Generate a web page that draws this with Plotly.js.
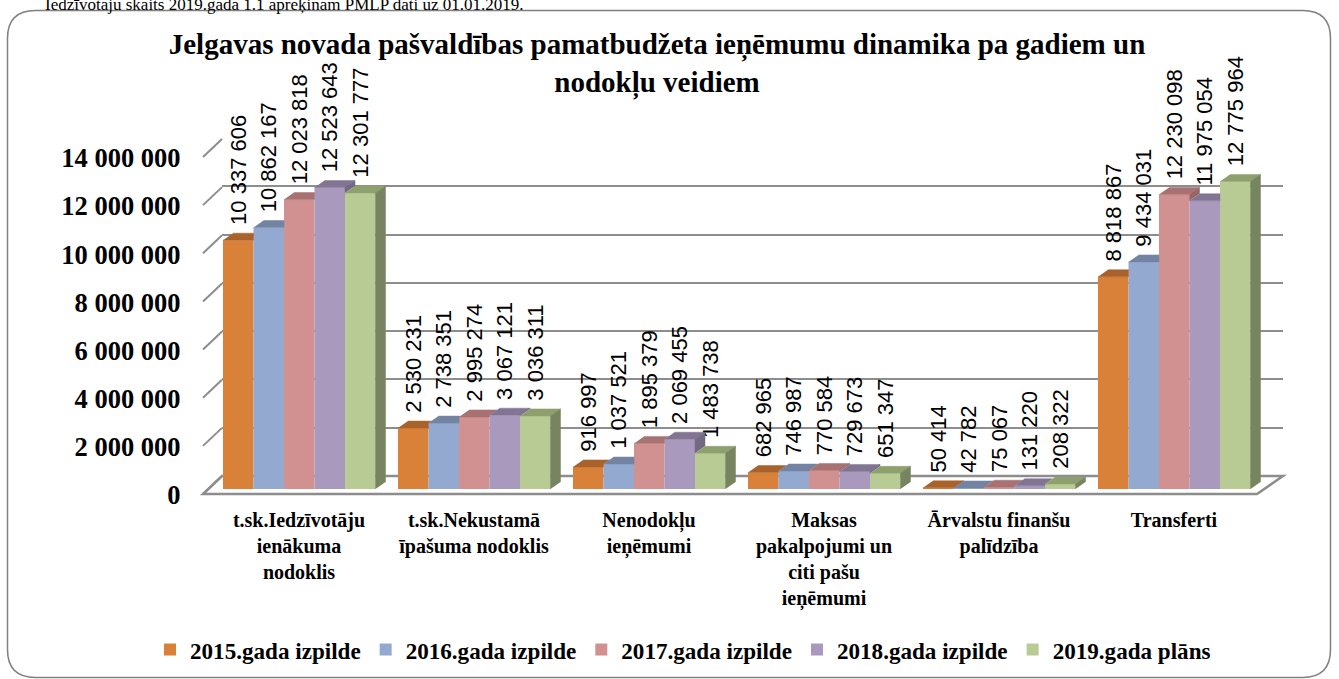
<!DOCTYPE html>
<html>
<head>
<meta charset="utf-8">
<script src="https://cdn.plot.ly/plotly-3.0.1.min.js"></script>
<style>html,body{margin:0;padding:0;background:#fff;}#chart{width:1339px;height:679px;}</style>
</head>
<body>
<div id="chart"></div>
<script>
// ---- data ----
const categories = [
  't.sk.Iedzīvotāju<br>ienākuma<br>nodoklis',
  't.sk.Nekustamā<br>īpašuma nodoklis',
  'Nenodokļu<br>ieņēmumi',
  'Maksas<br>pakalpojumi un<br>citi pašu<br>ieņēmumi',
  'Ārvalstu finanšu<br>palīdzība',
  'Transferti'
];
const seriesNames = ['2015.gada izpilde','2016.gada izpilde','2017.gada izpilde','2018.gada izpilde','2019.gada plāns'];
const v2015 = [10337606, 2530231, 916997, 682965, 50414, 8818867];
const v2016 = [10862167, 2738351, 1037521, 746987, 42782, 9434031];
const v2017 = [12023818, 2995274, 1895379, 770584, 75067, 12230098];
const v2018 = [12523643, 3067121, 2069455, 729673, 131220, 11975054];
const v2019 = [12301777, 3036311, 1483738, 651347, 208322, 12775964];
const yTicks = [0, 2000000, 4000000, 6000000, 8000000, 10000000, 12000000, 14000000];
const titleText = 'Jelgavas novada pašvaldības pamatbudžeta ieņēmumu dinamika pa gadiem un<br>nodokļu veidiem';
const topNote = 'Iedzīvotāju skaits 2019.gada 1.1 aprēķinām PMLP dati uz 01.01.2019.';

// ---- styling / geometry ----
const W = 1339, H = 679;
const YMAX = 14000000;
const frontCol = ['#DA8139','#93A9CF','#D09190','#A99ABD','#B9CB94'];
const topCol   = ['#A9622B','#7384A2','#A87172','#817593','#8FA06F'];
const sideCol  = ['#9A5726','#69798F','#976565','#736983','#76855F'];
const PXCAT = 175;                 // px per category
const BW = 30.5 / PXCAT;           // bar width in category units
const OFF0 = -76 / PXCAT;          // offset of first bar
const DX = 10 / PXCAT;             // depth x
const DY = 7 * YMAX / 337;         // depth y (value units)
const px = p => p / W;
const py = p => 1 - p / H;

const series = [v2015, v2016, v2017, v2018, v2019];
const xIdx = categories.map((_, i) => i);

const traces = [];
traces.push({type:'scatter', x:[], y:[], xaxis:'x', yaxis:'y', showlegend:false, hoverinfo:'skip'});

series.forEach((vals, j) => {
  traces.push({
    type:'bar', name: seriesNames[j], x: xIdx, y: vals, xaxis:'x2', yaxis:'y2',
    width: BW, offset: OFF0 + j * BW,
    marker:{color: frontCol[j], line:{width:0}},
    texttemplate: '\u2007%{y:,d}', textposition:'outside', textangle:-90,
    textfont:{family:'Liberation Sans, Arial, sans-serif', size:22, color:'#000'},
    cliponaxis:false, constraintext:'none', hoverinfo:'skip'
  });
});

series.forEach((vals, j) => {
  const tx = [], ty = [], sx = [], sy = [];
  vals.forEach((v, i) => {
    const xl = i + OFF0 + j * BW, xr = xl + BW;
    const next = j < series.length - 1 ? series[j + 1][i] : null;
    if (next === null || next <= v) {
      tx.push(xl, xr, xr + DX, xl + DX, null); ty.push(v, v, v + DY, v + DY, null);
    } else {
      const n = Math.min(next, v + DY);
      tx.push(xl, xr, xr, xr + DX * (v + DY - n) / DY, xl + DX, null);
      ty.push(v, v, n, v + DY, v + DY, null);
    }
    if (next === null) {
      sx.push(xr, xr, xr + DX, xr + DX, null); sy.push(0, v, v + DY, DY, null);
    } else if (next < v) {
      sx.push(xr, xr, xr + DX, xr + DX, null); sy.push(next, v, v + DY, next + DY, null);
    }
  });
  traces.push({type:'scatter', mode:'lines', x:tx, y:ty, xaxis:'x2', yaxis:'y2', fill:'toself',
    fillcolor: topCol[j], line:{color: topCol[j], width:0.5}, showlegend:false, hoverinfo:'skip', connectgaps:false});
  if (sx.length) traces.push({type:'scatter', mode:'lines', x:sx, y:sy, xaxis:'x2', yaxis:'y2', fill:'toself',
    fillcolor: sideCol[j], line:{color: sideCol[j], width:0.5}, showlegend:false, hoverinfo:'skip', connectgaps:false});
});

const shapes = [];
const fx0 = px(7.5), fx1 = px(1330.5), fyT = py(10.5), fyB = py(677.5);
const rx = 28 / W, ry = 28 / H;
shapes.push({type:'path', xref:'paper', yref:'paper', layer:'below',
  path:`M${fx0+rx},${fyT} L${fx1-rx},${fyT} Q${fx1},${fyT} ${fx1},${fyT-ry} L${fx1},${fyB+ry} Q${fx1},${fyB} ${fx1-rx},${fyB} L${fx0+rx},${fyB} Q${fx0},${fyB} ${fx0},${fyB+ry} L${fx0},${fyT-ry} Q${fx0},${fyT} ${fx0+rx},${fyT} Z`,
  line:{color:'#808080', width:1.5}});
shapes.push({type:'path', xref:'paper', yref:'paper', layer:'below',
  path:`M${px(203)},${py(494)} L${px(1257)},${py(494)} L${px(1283)},${py(476)} L${px(222)},${py(476)} Z`,
  line:{color:'#8d8d8d', width:2.5}});
yTicks.forEach(v => {
  const d = v / YMAX * 337;
  shapes.push({type:'line', xref:'paper', yref:'paper', layer:'below',
    x0: px(203), y0: py(494 - d), x1: px(222), y1: py(476 - d),
    line:{color:'#8d8d8d', width:2}});
});

const layout = {
  width: W, height: H,
  margin:{l:0, r:0, t:0, b:0, autoexpand:false},
  paper_bgcolor:'#fff', plot_bgcolor:'rgba(0,0,0,0)',
  separators:', ',
  barmode:'overlay',
  hovermode:false,
  showlegend:true,
  title:{text: titleText, x: 657 / W, xanchor:'center', xref:'paper', y: py(54), yanchor:'top', yref:'container',
    font:{family:'Liberation Serif, Times New Roman, serif', size:29, weight:'bold', color:'#000'}},
  xaxis:{domain:[px(222), px(1283)], range:[0,1], visible:false, fixedrange:true},
  yaxis:{domain:[py(476), py(138)], range:[0, YMAX], tickvals: yTicks, showticklabels:false, ticks:'',
    showgrid:true, gridcolor:'#8d8d8d', gridwidth:2, zeroline:false, showline:false, fixedrange:true},
  xaxis2:{domain:[px(211.5), px(1281)], range:[-0.5, -0.5 + (1281 - 211.5) / PXCAT], anchor:'y2',
    tickvals: xIdx, ticktext: categories, ticks:'', showgrid:false, zeroline:false, showline:false,
    ticklabelstandoff: 17,
    tickfont:{family:'Liberation Serif, Times New Roman, serif', size:20, weight:'bold', color:'#000'}, fixedrange:true},
  yaxis2:{domain:[py(489), py(152)], range:[0, YMAX], anchor:'x2', tickvals: yTicks, tickformat:',d',
    ticks:'', showgrid:false, zeroline:false, showline:false, ticklabelshift:6, ticklabelstandoff:30,
    tickfont:{family:'Liberation Serif, Times New Roman, serif', size:26.5, weight:'bold', color:'#000'}, fixedrange:true},
  legend:{orientation:'h', x: px(150), xanchor:'left', y: py(650), yanchor:'middle',
    itemwidth:30, bgcolor:'rgba(0,0,0,0)',
    font:{family:'Liberation Serif, Times New Roman, serif', size:23.1, weight:'bold', color:'#000'}},
  shapes: shapes,
  annotations:[{text: topNote, xref:'paper', yref:'paper', x: px(43), xanchor:'left', y: py(16), yanchor:'bottom',
    showarrow:false, font:{family:'Liberation Serif, Times New Roman, serif', size:17, color:'#000'}}]
};

Plotly.newPlot('chart', traces, layout, {displayModeBar:false, staticPlot:true});
</script>
</body>
</html>
